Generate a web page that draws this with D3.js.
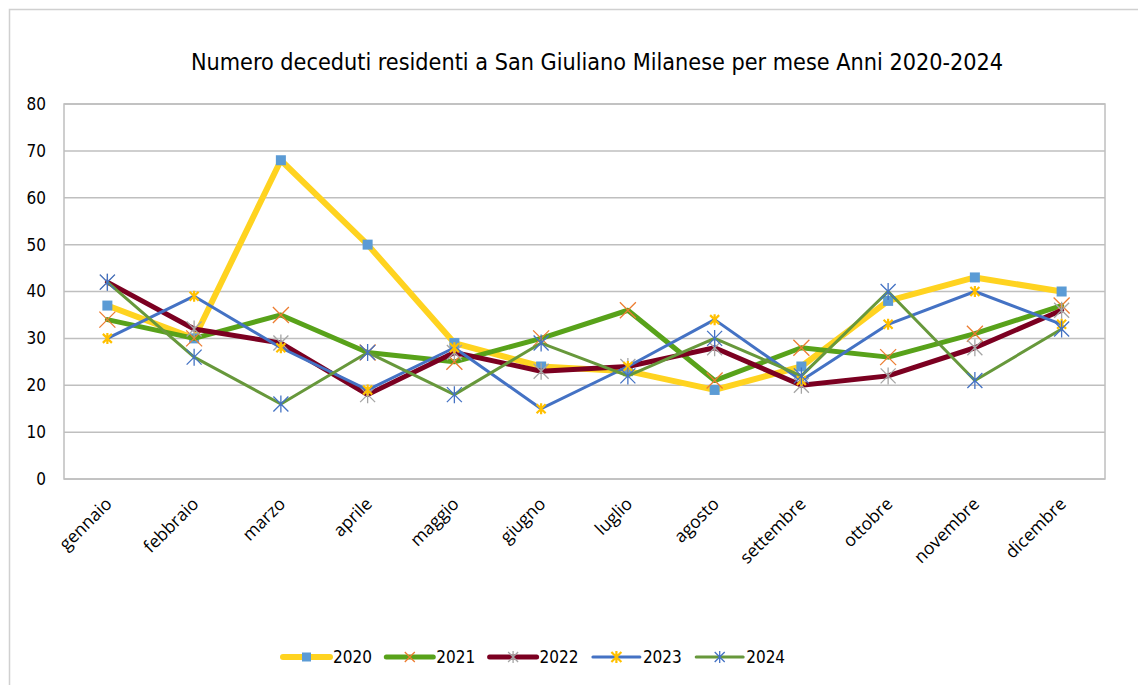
<!doctype html>
<html>
<meta charset="UTF-8">
<head>
<title>Deceduti San Giuliano Milanese</title>
<script src="https://cdn.jsdelivr.net/npm/d3@7"></script>
<style>
  body { margin: 0; background: #fff; }
  svg { display: block; }
</style>
</head>
<body>
<script>
// data
var mesi = ["gennaio", "febbraio", "marzo", "aprile", "maggio", "giugno",
            "luglio", "agosto", "settembre", "ottobre", "novembre", "dicembre"];
var anni = ["2020", "2021", "2022", "2023", "2024"];
var v2020 = [37, 30, 68, 50, 29, 24, 23, 19, 24, 38, 43, 40];
var v2021 = [34, 30, 35, 27, 25, 30, 36, 21, 28, 26, 31, 37];
var v2022 = [42, 32, 29, 18, 27, 23, 24, 28, 20, 22, 28, 36];
var v2023 = [30, 39, 28, 19, 28, 15, 24, 34, 21, 33, 40, 33];
var v2024 = [42, 26, 16, 27, 18, 29, 22, 30, 22, 40, 21, 32];
var yTicks = [0, 10, 20, 30, 40, 50, 60, 70, 80];

var W = 1138, H = 685;
var pLeft = 64, pRight = 1105, pTop = 104, pBottom = 479;

// per-series look (line colour / width, marker type / colour / size)
var stili = [
  { vals: v2020, line: "#FFD320", w: 6, mk: "square", mc: "#5B9BD5", ms: 10 },
  { vals: v2021, line: "#58A21A", w: 5, mk: "x",      mc: "#ED7D31", ms: 16 },
  { vals: v2022, line: "#7B0021", w: 5, mk: "star",   mc: "#A5A5A5", ms: 15 },
  { vals: v2023, line: "#4472C4", w: 3, mk: "star",   mc: "#FFC000", ms: 9, mw: 2.2 },
  { vals: v2024, line: "#67983B", w: 3, mk: "star",   mc: "#4472C4", ms: 15 }
];

var svg = d3.select("body").append("svg")
  .attr("width", W).attr("height", H);

// chart frame
svg.append("rect")
  .attr("x", 9.5).attr("y", 9.5)
  .attr("width", W + 20).attr("height", H + 20)
  .attr("fill", "#fff").attr("stroke", "#D0D0D0").attr("stroke-width", 1.5);

var x = d3.scalePoint().domain(mesi).range([pLeft, pRight]).padding(0.5);
var y = d3.scaleLinear().domain([0, 80]).range([pBottom, pTop]);

// title
svg.append("text")
  .attr("x", 597).attr("y", 70)
  .attr("text-anchor", "middle")
  .attr("font-family", "DejaVu Sans Condensed, DejaVu Sans")
  .attr("font-size", 23.2)
  .attr("fill", "#000")
  .text("Numero deceduti residenti a San Giuliano Milanese per mese Anni 2020-2024");

// grid
svg.append("g").selectAll("line")
  .data(yTicks).enter().append("line")
    .attr("x1", pLeft).attr("x2", pRight)
    .attr("y1", function(d) { return y(d); })
    .attr("y2", function(d) { return y(d); })
    .attr("stroke", "#BFBFBF").attr("stroke-width", 1.5);

svg.append("rect")
  .attr("x", pLeft).attr("y", pTop)
  .attr("width", pRight - pLeft).attr("height", pBottom - pTop)
  .attr("fill", "none").attr("stroke", "#BFBFBF").attr("stroke-width", 1.5);

// y axis labels
var yAxis = d3.axisLeft(y).tickValues(yTicks).tickSize(0).tickPadding(18);
var gy = svg.append("g").attr("transform", "translate(" + pLeft + ",0)").call(yAxis);
gy.select(".domain").remove();
gy.selectAll("text")
  .attr("font-family", "DejaVu Sans Condensed, DejaVu Sans")
  .attr("font-size", 17).attr("fill", "#000");

// x axis labels, rotated
var xAxis = d3.axisBottom(x).tickSize(0).tickPadding(0);
var gx = svg.append("g").attr("transform", "translate(0," + pBottom + ")").call(xAxis);
gx.select(".domain").remove();
gx.selectAll("text")
  .attr("font-family", "Open Sans, Liberation Sans")
  .attr("font-size", 17.5).attr("fill", "#000")
  .attr("text-anchor", "end")
  .attr("dy", null)
  .attr("transform", "translate(5,26) rotate(-45)");

function marker(g, type, color, size, sw) {
  var h = size / 2;
  sw = sw || 1.3;
  if (type == "square") {
    g.append("rect").attr("x", -h).attr("y", -h)
      .attr("width", size).attr("height", size).attr("fill", color);
  } else {
    var p = "M" + (-h) + "," + (-h) + "L" + h + "," + h +
            "M" + (-h) + "," + h + "L" + h + "," + (-h);
    if (type == "star") p += "M0," + (-h - 1) + "L0," + (h + 1);
    g.append("path").attr("d", p).attr("fill", "none")
      .attr("stroke", color).attr("stroke-width", sw);
  }
}

var linea = d3.line()
  .x(function(d, i) { return x(mesi[i]); })
  .y(function(d) { return y(d); });

stili.forEach(function(s) {
  var g = svg.append("g");
  g.append("path").datum(s.vals)
    .attr("d", linea)
    .attr("fill", "none")
    .attr("stroke", s.line).attr("stroke-width", s.w)
    .attr("stroke-linejoin", "round").attr("stroke-linecap", "round");
  g.selectAll("g.pt").data(s.vals).enter().append("g")
    .attr("class", "pt")
    .attr("transform", function(d, i) { return "translate(" + x(mesi[i]) + "," + y(d) + ")"; })
    .each(function() { marker(d3.select(this), s.mk, s.mc, s.ms, s.mw); });
});

// legend
var leg = svg.append("g");
stili.forEach(function(s, i) {
  var lx = 283 + i * 103.3, ly = 657;
  var it = leg.append("g");
  it.append("line")
    .attr("x1", lx).attr("x2", lx + 47)
    .attr("y1", ly).attr("y2", ly)
    .attr("stroke", s.line).attr("stroke-width", s.w)
    .attr("stroke-linecap", "round");
  var m = it.append("g").attr("transform", "translate(" + (lx + 23.5) + "," + ly + ")");
  marker(m, s.mk, s.mc, s.mk == "square" ? 9 : 10, s.mw);
  it.append("text")
    .attr("x", lx + 50).attr("y", ly + 6)
    .attr("font-family", "DejaVu Sans Condensed, DejaVu Sans")
    .attr("font-size", 17).attr("fill", "#000")
    .text(anni[i]);
});
</script>
</body>
</html>
